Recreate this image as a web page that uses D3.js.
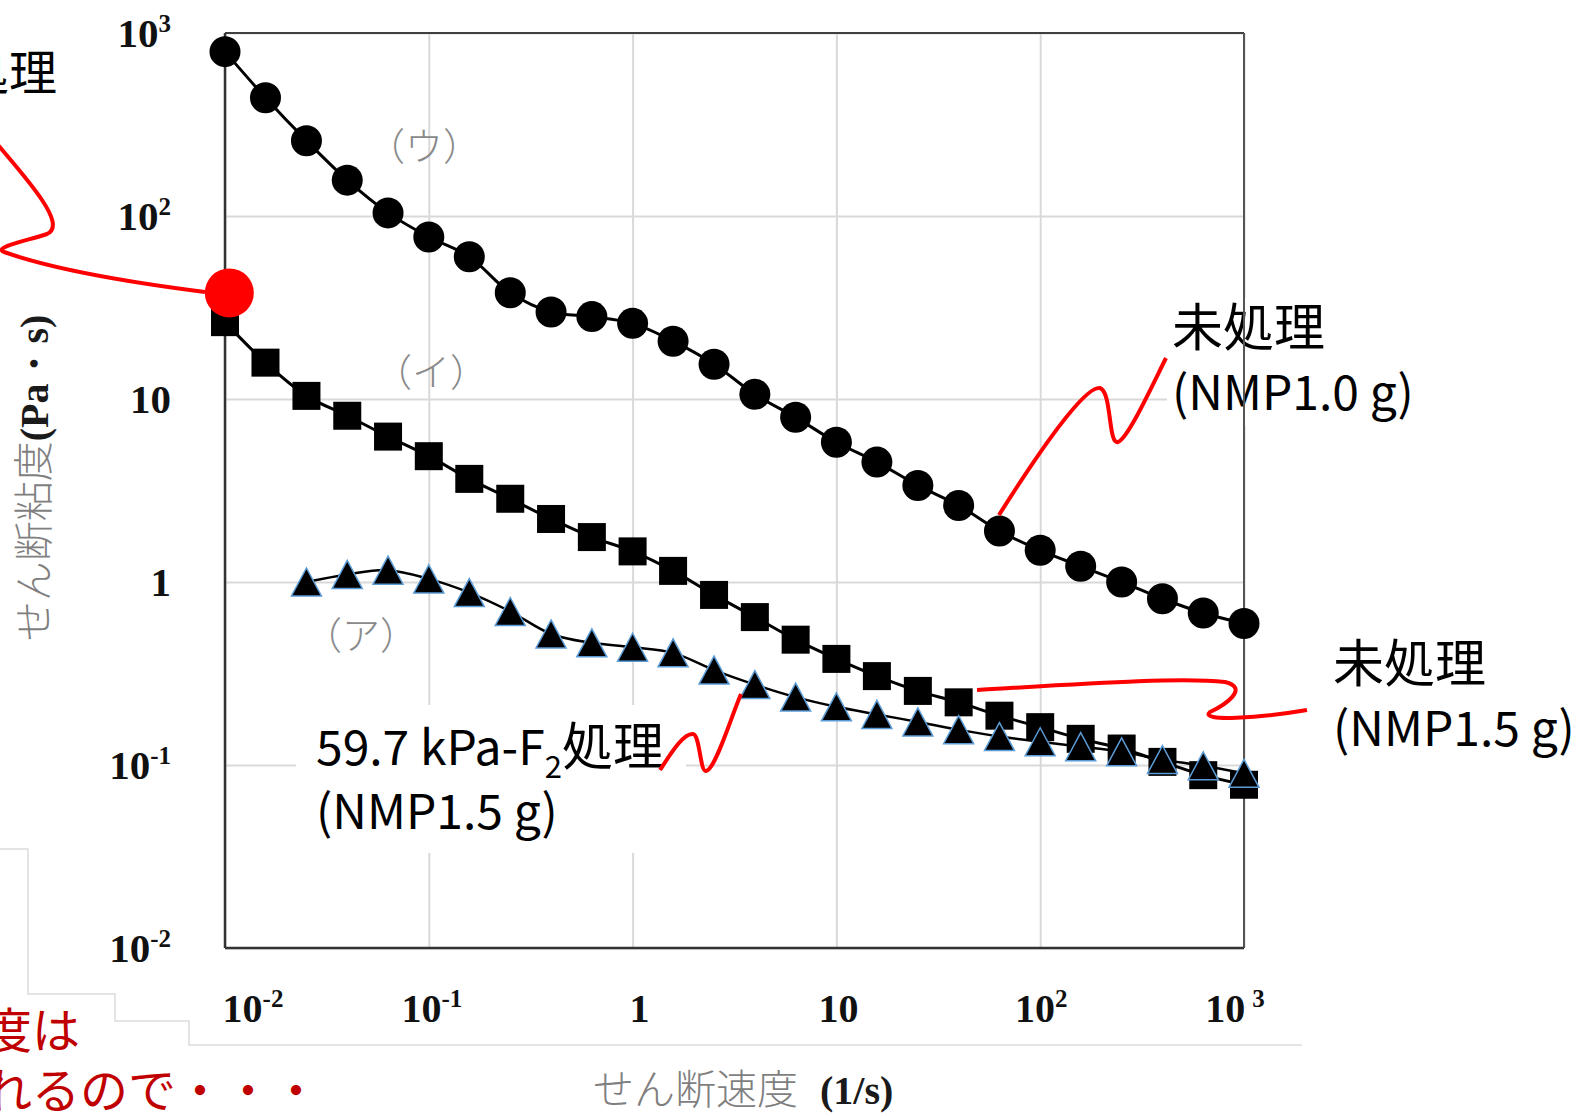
<!DOCTYPE html>
<html>
<head>
<meta charset="utf-8">
<script src="https://cdn.jsdelivr.net/npm/d3@7"></script>
<style>
  body { margin: 0; background: #fff; }
  svg { display: block; }
</style>
</head>
<body>
<div id="chart"></div>
<script>
// shear rate (1/s), 5 points per decade
const shearRate = [0.01, 0.0158, 0.0251, 0.0398, 0.0631, 0.1, 0.158, 0.251, 0.398, 0.631,
    1, 1.58, 2.51, 3.98, 6.31, 10, 15.8, 25.1, 39.8, 63.1, 100, 158, 251, 398, 631, 1000];
// (ウ) untreated, NMP 1.0 g
const viscU = [791, 443, 258, 157, 104, 76.8, 59.9, 38.1, 29.9, 28.2,
    25.9, 20.7, 15.5, 10.6, 7.94, 5.8, 4.52, 3.37, 2.62, 1.9, 1.49, 1.22, 1.0, 0.81, 0.677, 0.593];
// (イ) untreated, NMP 1.5 g
const viscI = [26.3, 15.8, 10.4, 8.1, 6.23, 4.87, 3.66, 2.85, 2.21, 1.76,
    1.47, 1.15, 0.85, 0.643, 0.484, 0.38, 0.306, 0.254, 0.22, 0.186, 0.161, 0.139, 0.123, 0.104, 0.088, 0.078];
// (ア) 59.7 kPa-F2 treated, NMP 1.5 g
const shearRateA = [0.0251, 0.0398, 0.0631, 0.1, 0.158, 0.251, 0.398, 0.631,
    1, 1.58, 2.51, 3.98, 6.31, 10, 15.8, 25.1, 39.8, 63.1, 100, 158, 251, 398, 631, 1000];
const viscA = [1.0, 1.1, 1.16, 1.04, 0.875, 0.69, 0.52, 0.465, 0.44, 0.41,
    0.33, 0.275, 0.235, 0.208, 0.189, 0.172, 0.156, 0.143, 0.134, 0.126, 0.118, 0.107, 0.099, 0.09];

const xTicks = [0.01, 0.1, 1, 10, 100, 1000];
const xTickBase = ["10", "10", "1", "10", "10", "10"];
const xTickExp = ["-2", "-1", "", "", "2", "3"];
const yTicks = [1000, 100, 10, 1, 0.1, 0.01];
const yTickBase = ["10", "10", "10", "1", "10", "10"];
const yTickExp = ["3", "2", "", "", "-1", "-2"];

const width = 1577, height = 1116;
const plot = { left: 225, right: 1244, top: 33, bottom: 948 };

const svg = d3.select("#chart")
    .append("svg")
    .attr("width", width)
    .attr("height", height)
    .attr("viewBox", `0 0 ${width} ${height}`);

svg.append("rect").attr("width", width).attr("height", height).attr("fill", "#fff");

const xScale = d3.scaleLog().domain([0.01, 1000]).range([plot.left, plot.right]);
const yScale = d3.scaleLog().domain([0.01, 1000]).range([plot.bottom, plot.top]);

// faint frame lines left over from the slide
svg.append("polyline")
    .attr("points", "0,849 28,849 28,994 115,994 115,1021 189,1021 189,1045 1302,1045")
    .attr("fill", "none")
    .attr("stroke", "#dcdcdc")
    .attr("stroke-width", 1.5);

// grid
svg.append("g")
    .attr("transform", `translate(0,${plot.bottom})`)
    .call(d3.axisBottom(xScale).tickValues(xTicks).tickSize(-(plot.bottom - plot.top)).tickFormat(""))
    .call(g => g.select(".domain").remove())
    .selectAll("line")
    .attr("stroke", "#d9d9d9")
    .attr("stroke-width", 2);

svg.append("g")
    .attr("transform", `translate(${plot.left},0)`)
    .call(d3.axisLeft(yScale).tickValues(yTicks).tickSize(-(plot.right - plot.left)).tickFormat(""))
    .call(g => g.select(".domain").remove())
    .selectAll("line")
    .attr("stroke", "#d9d9d9")
    .attr("stroke-width", 2);

// tick labels
const serif = "'Liberation Serif', 'Times New Roman', serif";
const jp = "'Noto Sans CJK JP', 'Noto Sans', sans-serif";
const xNudge = [28, 3, 7, 2, 1, -9];
const xSupGap = [0, 0, 0, 0, 0, 7];

xTicks.forEach((v, i) => {
    const t = svg.append("text")
        .attr("x", xScale(v) + xNudge[i])
        .attr("y", 1022)
        .attr("text-anchor", "middle")
        .attr("fill", "#111")
        .style("font-family", serif)
        .style("font-weight", "bold")
        .style("font-size", "40px");
    t.append("tspan").text(xTickBase[i]);
    if (xTickExp[i]) {
        t.append("tspan")
            .attr("dx", xSupGap[i])
            .attr("dy", -15)
            .style("font-size", "25px")
            .text(xTickExp[i]);
    }
});

yTicks.forEach((v, i) => {
    const t = svg.append("text")
        .attr("x", 171)
        .attr("y", yScale(v) + 14)
        .attr("text-anchor", "end")
        .attr("fill", "#111")
        .style("font-family", serif)
        .style("font-weight", "bold")
        .style("font-size", "41px");
    t.append("tspan").text(yTickBase[i]);
    if (yTickExp[i]) {
        t.append("tspan")
            .attr("dy", -15)
            .style("font-size", "25px")
            .text(yTickExp[i]);
    }
});

// axis titles
const yTitle = svg.append("text")
    .attr("transform", "translate(48,478) rotate(-90)")
    .attr("text-anchor", "middle")
    .style("font-size", "40px");
yTitle.append("tspan")
    .attr("fill", "#7f7f7f")
    .style("font-family", jp)
    .style("font-weight", 300)
    .text("せん断粘度");
yTitle.append("tspan")
    .attr("fill", "#1a1a1a")
    .style("font-family", serif)
    .style("font-weight", "bold")
    .text("(Pa・s)");

const xTitle = svg.append("text")
    .attr("x", 593)
    .attr("y", 1104)
    .style("font-size", "41px");
xTitle.append("tspan")
    .attr("fill", "#7f7f7f")
    .style("font-family", jp)
    .style("font-weight", 300)
    .text("せん断速度");
xTitle.append("tspan")
    .attr("dx", 22)
    .attr("fill", "#1a1a1a")
    .style("font-family", serif)
    .style("font-weight", "bold")
    .style("font-size", "40px")
    .text("(1/s)");

// white label boxes that hide the grid
svg.append("rect").attr("x", 296).attr("y", 705).attr("width", 390).attr("height", 148).attr("fill", "#fff");
svg.append("rect").attr("x", 1167).attr("y", 298).attr("width", 250).attr("height", 128).attr("fill", "#fff");

// series tags
function tag(label, cx, cy) {
    svg.append("text")
        .attr("x", cx)
        .attr("y", cy + 14)
        .attr("text-anchor", "middle")
        .attr("fill", "#8a8a8a")
        .style("font-family", jp)
        .style("font-weight", 300)
        .style("font-size", "38px")
        .text(label);
}
tag("（ウ）", 424, 146);
tag("（イ）", 431, 372);
tag("（ア）", 361, 635);

// callout labels: CJK at 51px, Latin at 48px
function label(x0, y0, lines) {
    lines.forEach((ln, i) => {
        const t = svg.append("text")
            .attr("x", x0)
            .attr("y", y0 + i * 64)
            .attr("fill", "#000")
            .style("font-family", jp);
        ln.forEach(part => {
            const s = t.append("tspan").text(part.t).style("font-size", (part.size || 48) + "px");
            if (part.dy) s.attr("dy", part.dy);
        });
    });
}
label(1172, 346, [[{ t: "未処理", size: 51 }], [{ t: "(NMP1.0 g)" }]]);
label(1333, 682, [[{ t: "未処理", size: 51 }], [{ t: "(NMP1.5 g)" }]]);
label(316, 765, [
    [{ t: "59.7 kPa-F" }, { t: "2", size: 31, dy: 13 }, { t: "処理", size: 51, dy: -13 }],
    [{ t: "(NMP1.5 g)" }]
]);

// partly cut text from the slide
svg.append("text").attr("x", -39).attr("y", 90)
    .attr("fill", "#000").style("font-family", jp).style("font-size", "48px").text("処理");
svg.append("text").attr("x", -16).attr("y", 1048)
    .attr("fill", "#c00000").style("font-family", jp).style("font-size", "48px").text("度は");
svg.append("text").attr("x", -16).attr("y", 1108)
    .attr("fill", "#c00000").style("font-family", jp).style("font-size", "48px").text("れるので・・・");

// plot frame
const frame = svg.append("g").attr("fill", "none");
frame.append("line").attr("x1", plot.left).attr("x2", plot.right).attr("y1", plot.top).attr("y2", plot.top)
    .attr("stroke", "#404040").attr("stroke-width", 2);
frame.append("line").attr("x1", plot.right).attr("x2", plot.right).attr("y1", plot.top).attr("y2", plot.bottom)
    .attr("stroke", "#555").attr("stroke-width", 2);
frame.append("line").attr("x1", plot.left).attr("x2", plot.left).attr("y1", plot.top).attr("y2", plot.bottom)
    .attr("stroke", "#333").attr("stroke-width", 2.5);
frame.append("line").attr("x1", plot.left).attr("x2", plot.right).attr("y1", plot.bottom).attr("y2", plot.bottom)
    .attr("stroke", "#333").attr("stroke-width", 2.5);

// series
const line = d3.line()
    .x(d => xScale(d[0]))
    .y(d => yScale(d[1]))
    .curve(d3.curveCatmullRom.alpha(0.5));

const dataU = shearRate.map((r, i) => [r, viscU[i]]);
const dataI = shearRate.map((r, i) => [r, viscI[i]]);
const dataA = shearRateA.map((r, i) => [r, viscA[i]]);

// (イ) squares
svg.append("path").datum(dataI).attr("d", line)
    .attr("fill", "none").attr("stroke", "#000").attr("stroke-width", 3);
svg.selectAll(".sq").data(dataI).enter().append("rect")
    .attr("class", "sq")
    .attr("x", d => xScale(d[0]) - 14)
    .attr("y", d => yScale(d[1]) - 14)
    .attr("width", 28)
    .attr("height", 28)
    .attr("fill", "#000");

// (ア) triangles
svg.append("path").datum(dataA).attr("d", line)
    .attr("fill", "none").attr("stroke", "#000").attr("stroke-width", 2.5);
svg.selectAll(".tri").data(dataA).enter().append("path")
    .attr("class", "tri")
    .attr("transform", d => `translate(${xScale(d[0])},${yScale(d[1])})`)
    .attr("d", "M0,-14L15,14L-15,14Z")
    .attr("fill", "#000")
    .attr("stroke", "#5b9bd5")
    .attr("stroke-width", 1.5);

// (ウ) circles
svg.append("path").datum(dataU).attr("d", line)
    .attr("fill", "none").attr("stroke", "#000").attr("stroke-width", 3);
svg.selectAll(".dot").data(dataU).enter().append("circle")
    .attr("class", "dot")
    .attr("cx", d => xScale(d[0]))
    .attr("cy", d => yScale(d[1]))
    .attr("r", 15.5)
    .attr("fill", "#000");

// red annotations
svg.append("circle")
    .attr("cx", xScale(0.0105))
    .attr("cy", yScale(38))
    .attr("r", 24.5)
    .attr("fill", "#ff0000");

const callouts = [
    "M205,292 C150,285 60,272 4,252 C-8,247 30,240 47,234 C58,229 52,215 42,200 C30,182 15,165 -2,145",
    "M999,515 C1040,450 1085,385 1100,388 C1112,392 1108,445 1118,442 C1128,438 1150,390 1166,358",
    "M977,690 C1080,684 1180,677 1225,682 C1250,688 1225,705 1210,712 C1198,722 1260,718 1307,710",
    "M741,694 C730,720 715,770 706,771 C700,772 700,735 693,734 C683,733 670,755 660,770"
];
svg.selectAll(".callout").data(callouts).enter().append("path")
    .attr("class", "callout")
    .attr("d", d => d)
    .attr("fill", "none")
    .attr("stroke", "#ff0000")
    .attr("stroke-width", 4);
</script>
</body>
</html>
